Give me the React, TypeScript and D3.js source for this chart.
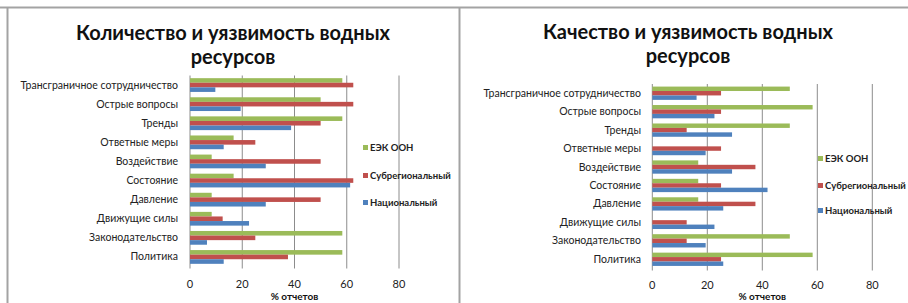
import React from 'react';
import { scaleLinear, scaleBand } from 'd3';

const categories = [
  'Трансграничное сотрудничество',
  'Острые вопросы',
  'Тренды',
  'Ответные меры',
  'Воздействие',
  'Состояние',
  'Давление',
  'Движущие силы',
  'Законодательство',
  'Политика',
];

const seriesNames = ['ЕЭК ООН', 'Субрегиональный', 'Национальный'];
const seriesColors = ['#9BBB59', '#C0504D', '#4F81BD'];
const xTicks = [0, 20, 40, 60, 80];

// Количество и уязвимость водных ресурсов
const uneceQuantity = [58.3, 50, 58.3, 16.7, 8.3, 16.7, 8.3, 8.3, 58.3, 58.3];
const subregionalQuantity = [62.5, 62.5, 50, 25, 50, 62.5, 50, 12.5, 25, 37.5];
const nationalQuantity = [9.7, 19.4, 38.7, 12.9, 29, 61.3, 29, 22.6, 6.5, 12.9];

// Качество и уязвимость водных ресурсов
const uneceQuality = [50, 58.3, 50, 0, 16.7, 16.7, 16.7, 0, 50, 58.3];
const subregionalQuality = [25, 25, 12.5, 25, 37.5, 25, 37.5, 12.5, 12.5, 25];
const nationalQuality = [16.1, 22.6, 29, 19.4, 29, 41.9, 25.8, 22.6, 19.4, 25.8];

const FONT = "Lato, 'Open Sans', sans-serif";

type PanelProps = {
  title: string[];
  titleX: number;
  titleY: number[];
  series: number[][];
  x0: number;
  x1: number;
  top: number;
  bottom: number;
  labelX: number;
  tickY: number;
  axisTitleY: number;
  legendX: number;
  legendY: number[];
};

function Panel(p: PanelProps) {
  const x = scaleLinear().domain([0, 80]).range([p.x0, p.x1]);
  const y = scaleBand<string>()
    .domain(categories)
    .range([p.top, p.bottom])
    .paddingInner(0.28)
    .paddingOuter(0.14);
  const inner = scaleBand<number>()
    .domain([0, 1, 2])
    .range([0, y.bandwidth()]);

  return (
    <g>
      {p.title.map((t, i) => (
        <text
          key={i}
          x={p.titleX}
          y={p.titleY[i]}
          textAnchor="middle"
          fontFamily={FONT}
          fontWeight="bold"
          fontSize={20}
          fill="#111"
        >
          {t}
        </text>
      ))}
      {xTicks.map(t => (
        <g key={t}>
          <line x1={x(t)} x2={x(t)} y1={p.top} y2={p.bottom + 2} stroke="#8c8c8c" strokeWidth={1} />
          <text x={x(t)} y={p.tickY} textAnchor="middle" fontFamily={FONT} fontSize={11} fill="#222">
            {t}
          </text>
        </g>
      ))}
      <text
        x={(p.x0 + p.x1) / 2}
        y={p.axisTitleY}
        textAnchor="middle"
        fontFamily={FONT}
        fontWeight="bold"
        fontSize={10}
        fill="#111"
      >
        % отчетов
      </text>
      {categories.map((c, ci) => (
        <g key={c}>
          <text
            x={p.labelX}
            y={(y(c) as number) + y.bandwidth() / 2 + 3.5}
            textAnchor="end"
            fontFamily={FONT}
            fontSize={10.5}
            fill="#222"
          >
            {c}
          </text>
          {p.series.map((s, si) =>
            s[ci] > 0 ? (
              <rect
                key={si}
                x={x(0)}
                y={(y(c) as number) + (inner(si) as number)}
                width={x(s[ci]) - x(0)}
                height={inner.bandwidth()}
                fill={seriesColors[si]}
              />
            ) : null
          )}
        </g>
      ))}
      {seriesNames.map((n, i) => (
        <g key={n}>
          <rect x={p.legendX} y={p.legendY[i] - 6} width={5} height={5} fill={seriesColors[i]} />
          <text
            x={p.legendX + 7}
            y={p.legendY[i]}
            fontFamily={FONT}
            fontWeight="bold"
            fontSize={9.5}
            fill="#222"
          >
            {n}
          </text>
        </g>
      ))}
    </g>
  );
}

export default function App() {
  return (
    <svg
      width={908}
      height={303}
      style={{ position: 'absolute', left: 0, top: 0, background: '#fff' }}
    >
      <rect x={0} y={0} width={908} height={303} fill="#fff" />
      <line x1={0} x2={908} y1={7.5} y2={7.5} stroke="#a3a3a3" strokeWidth={2} />
      <line x1={7.5} x2={7.5} y1={7} y2={303} stroke="#a3a3a3" strokeWidth={2} />
      <line x1={459.5} x2={459.5} y1={7} y2={303} stroke="#a3a3a3" strokeWidth={2} />
      <Panel
        title={['Количество и уязвимость водных', 'ресурсов']}
        titleX={233}
        titleY={[40, 64]}
        series={[uneceQuantity, subregionalQuantity, nationalQuantity]}
        x0={190}
        x1={399}
        top={75.5}
        bottom={266.5}
        labelX={178}
        tickY={288}
        axisTitleY={300}
        legendX={363}
        legendY={[151, 179, 206]}
      />
      <Panel
        title={['Качество и уязвимость водных', 'ресурсов']}
        titleX={688}
        titleY={[39, 63]}
        series={[uneceQuality, subregionalQuality, nationalQuality]}
        x0={652.3}
        x1={872.3}
        top={84}
        bottom={268.5}
        labelX={641}
        tickY={289}
        axisTitleY={300}
        legendX={818}
        legendY={[162, 189, 214]}
      />
    </svg>
  );
}
